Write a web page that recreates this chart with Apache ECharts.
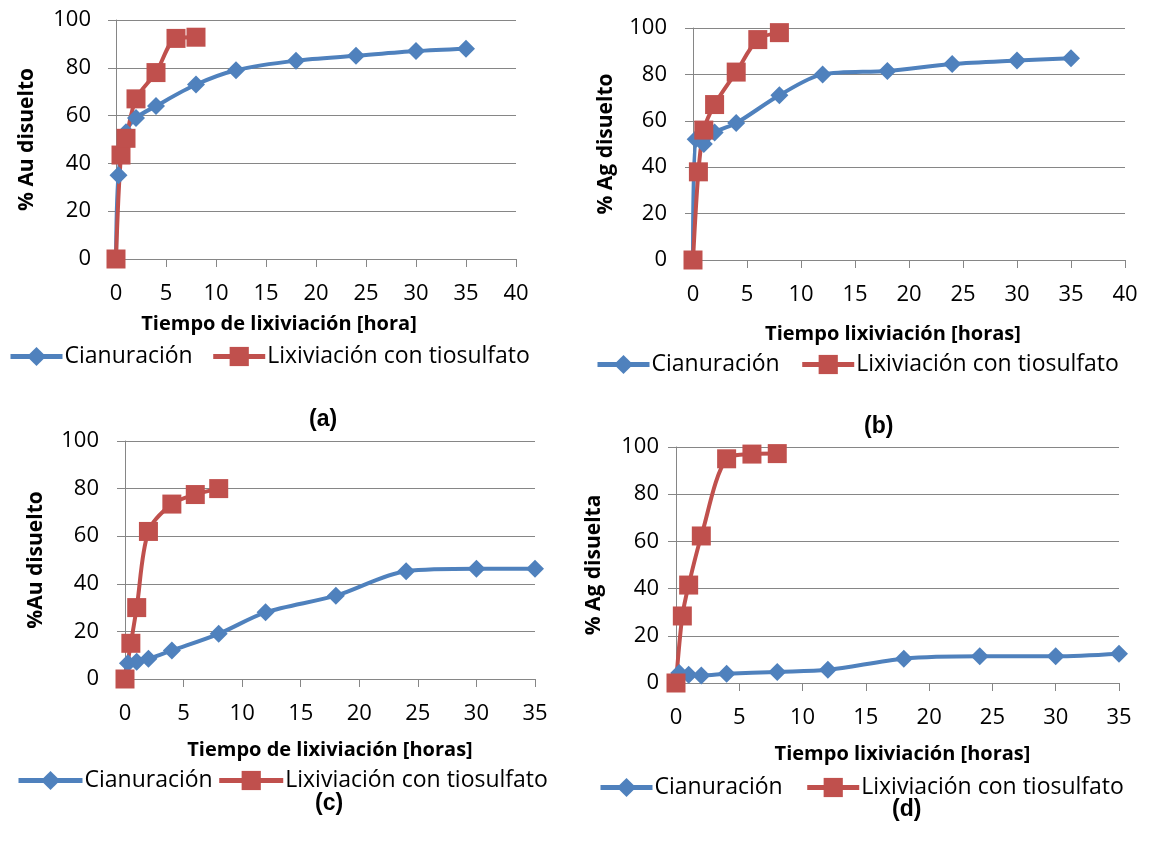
<!DOCTYPE html>
<html lang="es">
<head>
<meta charset="UTF-8">
<title>Disolución de Au y Ag</title>
<script src="https://cdn.jsdelivr.net/npm/echarts@6/dist/echarts.min.js"></script>
<style>
    html, body { margin: 0; padding: 0; background: #fff; }
    #main { width: 1150px; height: 854px; }
</style>
</head>
<body>
<div id="main"></div>
<script>
// tiempos de muestreo [horas]
var tCian = [0, 0.25, 1, 2, 4, 8, 12, 18, 24, 30, 35];
var tTio = [0, 0.5, 1, 2, 4, 6, 8];

// % disuelto, paneles (a) (b) (c) (d)
var cianA = [0, 35, 53, 59, 64, 73, 79, 83, 85, 87, 88];
var tioA = [0, 43.5, 50.5, 67, 78, 92.3, 92.8];
var cianB = [0, 52, 50, 55, 59, 71, 80, 81.5, 84.5, 86, 87];
var tioB = [0, 38, 56, 67, 81, 95, 98];
var cianC = [0, 6.6, 7.2, 8.5, 12, 19, 28, 35, 45.3, 46.3, 46.3];
var tioC = [0, 15, 30, 62, 73.5, 77.5, 80];
var cianD = [0, 4.2, 3.5, 3.2, 3.9, 4.7, 5.6, 10.3, 11.3, 11.3, 12.4];
var tioD = [0, 28.4, 41.5, 62.3, 95, 97, 97.2];

// textos
var serieNames = ['Cianuración', 'Lixiviación con tiosulfato'];
var yTitles = ['% Au disuelto', '% Ag disuelto', '%Au disuelto', '% Ag disuelta'];
var xTitles = ['Tiempo de lixiviación [hora]', 'Tiempo lixiviación [horas]',
               'Tiempo de lixiviación [horas]', 'Tiempo lixiviación [horas]'];
var captions = ['(a)', '(b)', '(c)', '(d)'];
var xMax = [40, 40, 35, 35];
var yMax = 100;

var cian = [cianA, cianB, cianC, cianD];
var tio = [tioA, tioB, tioC, tioD];

var FONT = "'Open Sans', 'Noto Sans', sans-serif";
var BLUE = '#4F81BD';
var RED = '#C0504D';
var GREY = '#868686';

function pares(xs, ys) {
    var out = [];
    for (var i = 0; i < xs.length; i++) out.push([xs[i], ys[i]]);
    return out;
}

// posiciones de cada panel
var grids = [
    {left: 116, top: 20, width: 400, height: 239},
    {left: 693, top: 28, width: 432, height: 232},
    {left: 125, top: 441, width: 410, height: 238},
    {left: 676, top: 447, width: 443, height: 236}
];
var yLabelMargin = [25, 26, 26, 17];
var yNameGap = [78, 76, 78, 71];
var xNameGap = [55, 64, 61, 61];
var xNameShift = [74, 32, 0, -10];
var legendPos = [[8, 345], [595, 353], [16, 769], [598, 776]];
var legendGap = [18, 20, 4, 22];
var legendW = [52, 52, 64, 52];
var capPos = [[325, 421], [880, 428], [331, 805], [908, 811]];

var option = {
    animation: false,
    grid: [], xAxis: [], yAxis: [], series: [], legend: [], graphic: []
};

for (var p = 0; p < 4; p++) {
    option.grid.push(grids[p]);
    option.xAxis.push({
        type: 'value', gridIndex: p, min: 0, max: xMax[p], interval: 5,
        name: xTitles[p], nameLocation: 'middle', nameGap: xNameGap[p],
        nameTextStyle: {fontFamily: FONT, fontWeight: 'bold', fontSize: 20, color: '#000',
                        padding: [0, Math.max(xNameShift[p], 0), 0, Math.max(-xNameShift[p], 0)]},
        axisLine: {show: true, lineStyle: {color: GREY, width: 1}},
        axisTick: {show: true, length: 8, lineStyle: {color: GREY}},
        axisLabel: {fontFamily: FONT, fontSize: 22, color: '#000', margin: 24},
        splitLine: {show: false}
    });
    option.yAxis.push({
        type: 'value', gridIndex: p, min: 0, max: yMax, interval: 20,
        name: yTitles[p], nameLocation: 'middle', nameGap: yNameGap[p], nameRotate: 90,
        nameTextStyle: {fontFamily: FONT, fontWeight: 'bold', fontSize: 21, color: '#000'},
        axisLine: {show: true, lineStyle: {color: GREY, width: 1}},
        axisTick: {show: true, length: 8, lineStyle: {color: GREY}},
        axisLabel: {fontFamily: FONT, fontSize: 22, color: '#000', margin: yLabelMargin[p]},
        splitLine: {show: true, lineStyle: {color: GREY, width: 1}}
    });
    option.series.push({
        name: serieNames[0], type: 'line', xAxisIndex: p, yAxisIndex: p,
        data: pares(tCian, cian[p]), smooth: 0.3,
        symbol: 'diamond', symbolSize: 18,
        lineStyle: {color: BLUE, width: 4},
        itemStyle: {color: BLUE}
    });
    option.series.push({
        name: serieNames[1], type: 'line', xAxisIndex: p, yAxisIndex: p,
        data: pares(tTio, tio[p]), smooth: 0.3,
        symbol: 'rect', symbolSize: 19,
        lineStyle: {color: RED, width: 4},
        itemStyle: {color: RED}
    });
    option.legend.push({
        data: serieNames, left: legendPos[p][0], top: legendPos[p][1],
        padding: 0, itemGap: legendGap[p], itemWidth: legendW[p], itemHeight: 24,
        lineStyle: {width: 5},
        textStyle: {fontFamily: FONT, fontSize: 23, color: '#000', padding: [0, 0, 0, -3]}
    });
    option.graphic.push({
        type: 'text', left: capPos[p][0] - 16, top: capPos[p][1] - 13,
        style: {text: captions[p], fontFamily: "'Liberation Sans', Arial, sans-serif",
                fontWeight: 'bold', fontSize: 23, fill: '#000'}
    });
}

var chart = echarts.init(document.getElementById('main'));
chart.setOption(option);
</script>
</body>
</html>
